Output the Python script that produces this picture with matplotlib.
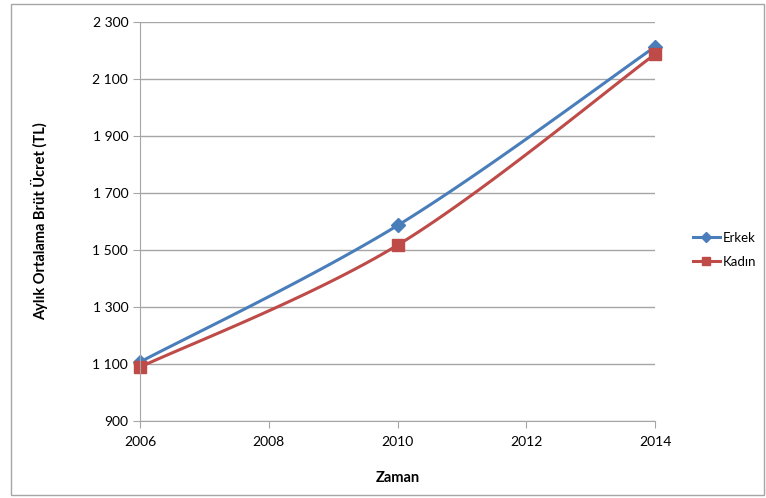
import numpy as np
import matplotlib
matplotlib.use("Agg")
from matplotlib import pyplot as plt
from matplotlib.patches import Rectangle

plt.rcParams['font.family'] = ['Lato', 'DejaVu Sans']

years = [2006, 2010, 2014]
erkek = [1107, 1586, 2213]
kadin = [1089, 1517, 2187]
yticks = [900, 1100, 1300, 1500, 1700, 1900, 2100, 2300]
xticks = [2006, 2008, 2010, 2012, 2014]


def smooth(xs, ys, n=60):
    # bezier smoothing of the kind spreadsheet charts use
    x = np.asarray(xs, float)
    y = np.asarray(ys, float)
    px = np.concatenate([[x[0]], x, [x[-1]]])
    py = np.concatenate([[y[0]], y, [y[-1]]])
    outx, outy = [], []
    t = np.linspace(0, 1, n)
    for i in range(1, len(px) - 2):
        p0 = np.array([px[i], py[i]])
        p3 = np.array([px[i + 1], py[i + 1]])
        c1 = p0 + (np.array([px[i + 1], py[i + 1]]) - np.array([px[i - 1], py[i - 1]])) / 6
        c2 = p3 - (np.array([px[i + 2], py[i + 2]]) - np.array([px[i], py[i]])) / 6
        b = ((1 - t) ** 3)[:, None] * p0 + (3 * (1 - t) ** 2 * t)[:, None] * c1 \
            + (3 * (1 - t) * t ** 2)[:, None] * c2 + (t ** 3)[:, None] * p3
        outx.extend(b[:, 0])
        outy.extend(b[:, 1])
    return outx, outy


fig = plt.figure(figsize=(7.66, 4.98), dpi=100)
fig.patches.append(Rectangle((0.014, 0.006), 0.984, 0.986, transform=fig.transFigure,
                             fill=False, edgecolor='#a6a6a6', linewidth=1))
ax = fig.add_axes([140 / 766, 1 - 421 / 498, 515 / 766, 399 / 498])

blue = '#4a7ebb'
red = '#be4b48'
sx, sy = smooth(years, erkek)
ax.plot(sx, sy, color=blue, linewidth=2.2, clip_on=False)
ax.plot(years, erkek, linestyle='none', marker='D', markersize=7, color=blue, clip_on=False)
sx, sy = smooth(years, kadin)
ax.plot(sx, sy, color=red, linewidth=2.2, clip_on=False)
ax.plot(years, kadin, linestyle='none', marker='s', markersize=8, color=red, clip_on=False)

h1, = ax.plot([], [], color=blue, linewidth=2.2, marker='D', markersize=5)
h2, = ax.plot([], [], color=red, linewidth=2.2, marker='s', markersize=6)

ax.set_xlim(2006, 2014)
ax.set_ylim(900, 2300)
ax.set_xticks(xticks)
ax.set_yticks(yticks)
ax.set_yticklabels([f"{v:,}".replace(',', ' ') for v in yticks])
ax.yaxis.grid(True, color='#a6a6a6', linewidth=1)
ax.set_axisbelow(True)
for s in ['top', 'right']:
    ax.spines[s].set_visible(False)
for s in ['left', 'bottom']:
    ax.spines[s].set_color('#a6a6a6')
ax.tick_params(axis='both', colors='#a6a6a6', labelcolor='black', labelsize=10, length=5)
ax.tick_params(axis='x', pad=6)

ax.set_ylabel('Aylık Ortalama Brüt Ücret (TL)', fontweight='bold', fontsize=10.5, labelpad=32)
ax.set_xlabel('Zaman', fontweight='bold', fontsize=10.5, labelpad=16)

fig.legend([h1, h2], ['Erkek', 'Kadın'], loc='center left', bbox_to_anchor=(688 / 766, 1 - 250 / 498),
           frameon=False, fontsize=9.5, handlelength=2.0, labelspacing=0.9, handletextpad=0.2,
           borderaxespad=0.0)

fig.savefig('out.png', dpi=100)
